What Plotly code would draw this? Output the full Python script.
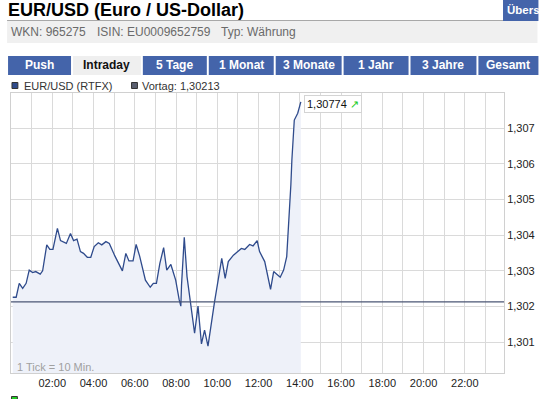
import plotly.graph_objects as go

# ---------------- data ----------------
times_min = [5, 15, 24, 34, 44, 53, 63, 72, 85, 92, 104, 113, 122, 135, 144, 161, 173, 182, 192, 202,
             211, 222, 232, 242, 254, 264, 276, 286, 302, 324, 334, 343, 355, 364, 374, 391, 405, 414,
             423, 433, 444, 453, 465, 479, 489, 494, 496, 504, 512, 522, 534, 544, 554, 563, 573, 592,
             603, 613, 623, 632, 647, 656, 670, 680, 694, 704, 716, 723, 738, 755, 764, 783, 793, 802,
             807, 811, 814, 817, 821, 824, 834, 843]
values = [1.30226, 1.30226, 1.30265, 1.30251, 1.30265, 1.30302, 1.30295, 1.30298, 1.30291, 1.30300,
          1.30373, 1.30360, 1.30360, 1.30419, 1.30385, 1.30377, 1.30405, 1.30385, 1.30389, 1.30354,
          1.30349, 1.30338, 1.30338, 1.30368, 1.30379, 1.30373, 1.30382, 1.30377, 1.30342, 1.30300,
          1.30349, 1.30328, 1.30328, 1.30374, 1.30342, 1.30274, 1.30254, 1.30265, 1.30265, 1.30321,
          1.30365, 1.30302, 1.30318, 1.30274, 1.30220, 1.30201, 1.30260, 1.30394, 1.30284, 1.30204,
          1.30125, 1.30201, 1.30095, 1.30134, 1.30089, 1.30213, 1.30284, 1.30335, 1.30279, 1.30326,
          1.30344, 1.30351, 1.30363, 1.30360, 1.30374, 1.30370, 1.30385, 1.30354, 1.30326, 1.30248,
          1.30298, 1.30282, 1.30302, 1.30340, 1.30415, 1.30485, 1.30541, 1.30611, 1.30686, 1.30723,
          1.30742, 1.30774]
vortag = 1.30213
last_value = 1.30774

x_tickvals = [60, 120, 180, 240, 300, 360, 420, 480, 540, 600, 660, 720, 780, 840, 900, 960, 1020,
              1080, 1140, 1200, 1260, 1320, 1380]
x_ticktext = ["", "02:00", "", "04:00", "", "06:00", "", "08:00", "", "10:00", "", "12:00", "",
              "14:00", "", "16:00", "", "18:00", "", "20:00", "", "22:00", ""]
y_tickvals = [1.301, 1.302, 1.303, 1.304, 1.305, 1.306, 1.307]

title_text = "EUR/USD (Euro / US-Dollar)"
info_texts = ["WKN: 965275", "ISIN: EU0009652759", "Typ: Währung"]
tab_labels = ["Push", "Intraday", "5 Tage", "1 Monat", "3 Monate", "1 Jahr", "3 Jahre", "Gesamt"]
active_tab = "Intraday"
legend_texts = ["EUR/USD (RTFX)", "Vortag: 1,30213"]
tick_note = "1 Tick = 10 Min."
corner_text = "Übers"

# ---------------- layout helpers ----------------
W, H = 545, 399
L, R, T, B = 10, 34, 93, 26
PW, PH = W - L - R, H - T - B


def px(x):
    return (x - L) / PW


def py(y):
    return (H - B - y) / PH


FONT = "Liberation Sans, Arial, sans-serif"
BLUE = "#4464aa"

fig = go.Figure()
fig.add_trace(go.Scatter(
    x=times_min, y=values, mode="lines",
    line=dict(color="#2f4b8c", width=1.3),
    fill="tozeroy", fillcolor="#eef1f9",
    hoverinfo="skip", showlegend=False,
))

shapes = []
annotations = []

# header
shapes.append(dict(type="rect", xref="paper", yref="paper", x0=px(6), x1=px(545), y0=py(43), y1=py(21),
                   fillcolor="#f0f0f0", line=dict(width=0), layer="below"))
shapes.append(dict(type="line", xref="paper", yref="paper", x0=px(6), x1=px(545), y0=py(20.5), y1=py(20.5),
                   line=dict(color="#a8a8a8", width=1)))
shapes.append(dict(type="rect", xref="paper", yref="paper", x0=px(510), x1=px(546), y0=py(21), y1=py(-1),
                   fillcolor=BLUE, line=dict(width=0)))
annotations.append(dict(text=corner_text, xref="paper", yref="paper", x=px(512), y=py(10),
                        xanchor="left", yanchor="middle", showarrow=False,
                        font=dict(family=FONT, size=11.5, color="white", weight="bold")))
annotations.append(dict(text=title_text, xref="paper", yref="paper", x=px(5), y=py(10.5),
                        xanchor="left", yanchor="middle", showarrow=False,
                        font=dict(family=FONT, size=18, color="black", weight="bold")))
for txt, xl in zip(info_texts, [8, 95.5, 221]):
    annotations.append(dict(text=txt, xref="paper", yref="paper", x=px(xl), y=py(32),
                            xanchor="left", yanchor="middle", showarrow=False,
                            font=dict(family=FONT, size=12, color="#6a6a6a")))

# tabs
tab_x = [(7, 71), (73, 142), (144, 209), (211, 277), (279, 346), (348, 414), (416, 483), (485, 546)]
for lab, (x0, x1) in zip(tab_labels, tab_x):
    act = lab == active_tab
    shapes.append(dict(type="rect", xref="paper", yref="paper", x0=px(x0), x1=px(x1), y0=py(75), y1=py(56),
                       fillcolor="#efefef" if act else BLUE, line=dict(width=0)))
    annotations.append(dict(text=lab, xref="paper", yref="paper", x=px((x0 + x1) / 2), y=py(65.5),
                            xanchor="center", yanchor="middle", showarrow=False,
                            font=dict(family=FONT, size=12, color="#111111" if act else "white",
                                      weight="bold")))

# legend row
for (sx, col, tx), txt in zip([(11, "#2f4b8c", 21.5), (132.5, "#5a5f70", 141.5)], legend_texts):
    shapes.append(dict(type="rect", xref="paper", yref="paper", x0=px(sx), x1=px(sx + 6), y0=py(88.5),
                       y1=py(82.5), fillcolor=col, line=dict(color="#333333", width=1)))
    annotations.append(dict(text=txt, xref="paper", yref="paper", x=px(tx), y=py(85.5),
                            xanchor="left", yanchor="middle", showarrow=False,
                            font=dict(family=FONT, size=11, color="#333333")))

# previous-day line
shapes.append(dict(type="line", xref="paper", yref="y", x0=0, x1=1, y0=vortag, y1=vortag,
                   line=dict(color="#4b5675", width=1.4)))

# bottom partial legend square
shapes.append(dict(type="rect", xref="paper", yref="paper", x0=px(10.5), x1=px(16.5), y0=py(402),
                   y1=py(396.5), fillcolor="#22cc22", line=dict(color="#333333", width=1)))

# last value label
annotations.append(dict(text="%s <span style='color:#22cc22'>↗</span>" % f"{last_value:.5f}".replace(".", ","),
                        xref="paper", yref="paper", x=px(307.5), y=py(104.5),
                        xanchor="left", yanchor="middle", showarrow=False,
                        bgcolor="white", bordercolor="#d4d4d4", borderwidth=1, borderpad=2,
                        font=dict(family=FONT, size=11, color="#111111")))
annotations.append(dict(text=tick_note, xref="paper", yref="paper", x=px(14), y=py(366.5),
                        xanchor="left", yanchor="middle", showarrow=False,
                        font=dict(family=FONT, size=11, color="#a0a0a0")))

fig.update_layout(
    width=W, height=H, autosize=False,
    margin=dict(l=L, r=R, t=T, b=B, pad=0),
    paper_bgcolor="white", plot_bgcolor="white",
    separators=",.",
    showlegend=False,
    shapes=shapes, annotations=annotations,
    xaxis=dict(range=[0, 1434], tickmode="array", tickvals=x_tickvals, ticktext=x_ticktext,
               showgrid=True, gridcolor="#dadada", gridwidth=1, zeroline=False,
               showline=True, mirror=True, linecolor="#d0d0d0", linewidth=1, ticks="",
               tickfont=dict(family=FONT, size=11, color="#222222"), fixedrange=True),
    yaxis=dict(range=[1.300135, 1.307989], side="right", tickmode="array", tickvals=y_tickvals,
               tickformat=".3f", showgrid=True, gridcolor="#dadada", gridwidth=1, zeroline=False,
               showline=True, mirror=True, linecolor="#d0d0d0", linewidth=1, ticks="",
               tickfont=dict(family=FONT, size=11, color="#222222"), fixedrange=True),
)

fig.write_html("out.html", config={"displayModeBar": False},
               post_script="document.body.style.margin='0';document.body.style.overflow='hidden';")
